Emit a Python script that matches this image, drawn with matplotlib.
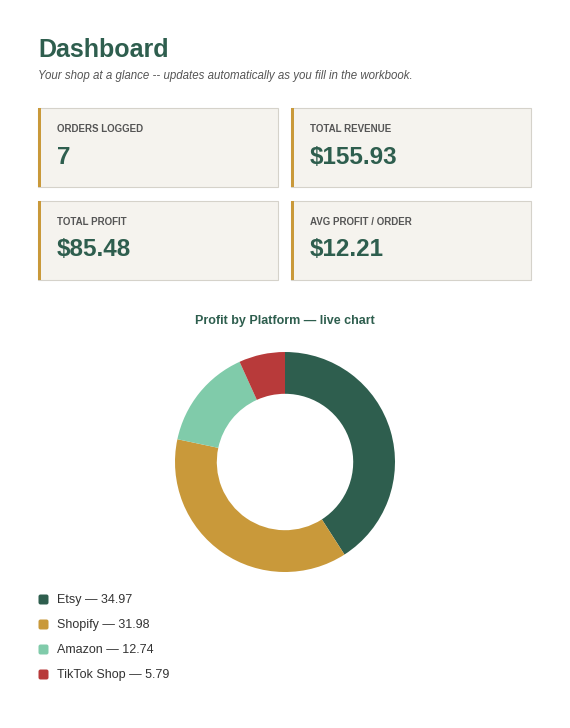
import matplotlib
matplotlib.use("Agg")
import matplotlib.pyplot as plt
from matplotlib.patches import Rectangle, FancyBboxPatch

platforms = ["Etsy", "Shopify", "Amazon", "TikTok Shop"]
profits = [34.97, 31.98, 12.74, 5.79]
colors = ["#2e5e4e", "#c9993a", "#80cbaa", "#b83a3a"]

card_labels = ["ORDERS LOGGED", "TOTAL REVENUE", "TOTAL PROFIT", "AVG PROFIT / ORDER"]
card_values = ["7", "$155.93", "$85.48", "$12.21"]

green = "#2e5e4e"
W, H = 570, 728
fig = plt.figure(figsize=(5.7, 7.28), dpi=100)
fig.patch.set_facecolor("white")

bg = fig.add_axes([0, 0, 1, 1])
bg.set_xlim(0, W)
bg.set_ylim(H, 0)
bg.axis("off")

bg.text(38, 50, "Dashboard", fontsize=18, fontweight="bold", color=green, va="center", family="Liberation Sans")
bg.text(38, 76, "Your shop at a glance -- updates automatically as you fill in the workbook.",
        fontsize=8.3, style="italic", color="#555555", va="center", family="Liberation Sans")

positions = [(38, 108), (291, 108), (38, 201), (291, 201)]
for (x, y), lab, val in zip(positions, card_labels, card_values):
    bg.add_patch(Rectangle((x, y), 240, 79, facecolor="#f5f3ee", edgecolor="#d5d2ca", lw=0.8))
    bg.add_patch(Rectangle((x, y), 3, 79, facecolor="#c9993a", edgecolor="none"))
    bg.text(x + 19, y + 21, lab, fontsize=7, fontweight="bold", color="#555555", va="center", family="Liberation Sans")
    bg.text(x + 19, y + 49, val, fontsize=17.5, fontweight="bold", color=green, va="center", family="Liberation Sans")

bg.text(285, 321, "Profit by Platform \u2014 live chart", fontsize=9, fontweight="bold", color=green,
        ha="center", va="center", family="Liberation Sans")

for i, (p, v, c) in enumerate(zip(platforms, profits, colors)):
    y = 600 + i * 25
    bg.add_patch(FancyBboxPatch((38.5, y - 5.5), 10, 10, boxstyle="round,pad=0,rounding_size=2",
                                facecolor=c, edgecolor="none"))
    bg.text(57, y, f"{p} \u2014 {v:.2f}", fontsize=9, color="#333333", va="center", family="Liberation Sans")

pie_ax = fig.add_axes([175 / W, (H - 572) / H, 220 / W, 220 / H])
pie_ax.pie(profits, colors=colors, startangle=90, counterclock=False, radius=1,
           wedgeprops=dict(width=0.38, edgecolor="none"))
pie_ax.set_xlim(-1, 1)
pie_ax.set_ylim(-1, 1)
pie_ax.set_aspect("equal")

fig.savefig("out.png", dpi=100)
